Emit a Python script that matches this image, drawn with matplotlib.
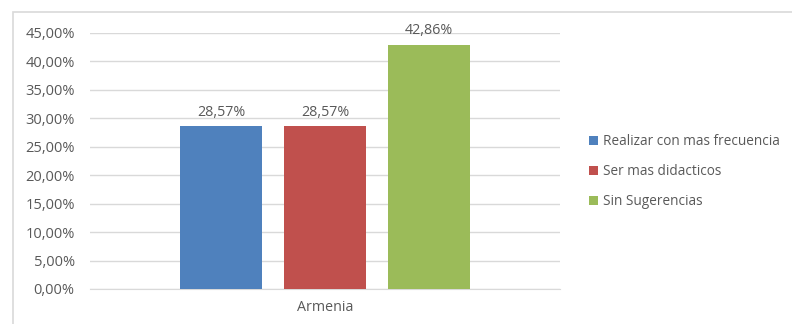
import matplotlib
matplotlib.use("Agg")
import matplotlib.pyplot as plt
from matplotlib.patches import Rectangle

categories = ["Armenia"]
series = ["Realizar con mas frecuencia", "Ser mas didacticos", "Sin Sugerencias"]
values = [0.2857, 0.2857, 0.4286]
labels = ["28,57%", "28,57%", "42,86%"]
colors = ["#4f81bd", "#c0504d", "#9bbb59"]
yticks = [0, 0.05, 0.10, 0.15, 0.20, 0.25, 0.30, 0.35, 0.40, 0.45]
ytick_labels = ["0,00%", "5,00%", "10,00%", "15,00%", "20,00%", "25,00%",
                "30,00%", "35,00%", "40,00%", "45,00%"]

plt.rcParams['font.family'] = ['Open Sans', 'DejaVu Sans']
txt = "#595959"

fig = plt.figure(figsize=(7.92, 3.24), dpi=100)
fig.patches.append(Rectangle((13/792, -0.1), 1.0, 1 - 12/324 + 0.1,
                             transform=fig.transFigure, fill=False,
                             edgecolor="#d9d9d9", linewidth=1.2))
ax = fig.add_axes([90/792, 1 - 289/324, 470/792, 256/324])

w = 82/470
step = 104/470
for i, (s, v, l, c) in enumerate(zip(series, values, labels, colors)):
    x = (i - 1) * step
    ax.bar(x, v, width=w, color=c, label=s, zorder=3)
    ax.text(x, v + 0.012, l, ha="center", va="bottom", fontsize=10.3, color=txt)

ax.set_xlim(-0.5, 0.5)
ax.set_ylim(0, 0.45)
ax.set_yticks(yticks)
ax.set_yticklabels(ytick_labels, fontsize=10.5, color=txt)
ax.set_xticks([0])
ax.set_xticklabels(categories, fontsize=10.3, color=txt)
ax.tick_params(axis="y", length=0, pad=11)
ax.tick_params(axis="x", length=0, pad=8)
ax.grid(axis="y", color="#d9d9d9", linewidth=1, zorder=0)
for sp in ["top", "right", "left"]:
    ax.spines[sp].set_visible(False)
ax.spines["bottom"].set_color("#d9d9d9")

ax.legend(loc="center left", bbox_to_anchor=(577/792, 0.47), bbox_transform=fig.transFigure,
          frameon=False, fontsize=9.8, labelcolor=txt, handlelength=0.65, handleheight=0.65,
          handletextpad=0.35, labelspacing=1.1)

fig.savefig("out.png", dpi=100)
